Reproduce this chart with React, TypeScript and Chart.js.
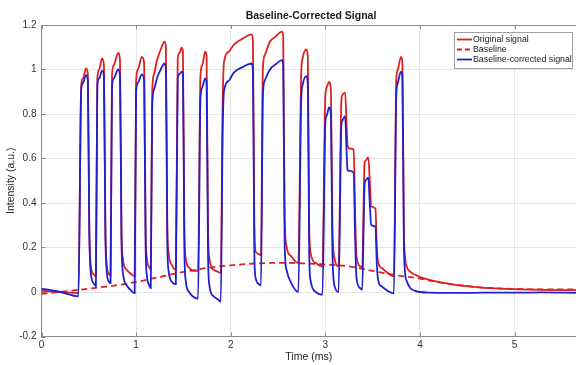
import React, { useEffect, useRef } from "react";
import { Chart, registerables } from "chart.js";

Chart.register(...registerables);

const chartTitle = "Baseline-Corrected Signal";
const xAxisTitle = "Time (ms)";
const yAxisTitle = "Intensity (a.u.)";
const seriesNames = ["Original signal", "Baseline", "Baseline-corrected signal"];

const xTicks = [0, 1, 2, 3, 4, 5];
const yTicks = [-0.2, 0, 0.2, 0.4, 0.6, 0.8, 1, 1.2];

// sample times (ms) shared by the original and corrected signals
const time = [
  0, 0.2, 0.39, 0.42, 0.44, 0.47, 0.49, 0.505, 0.52, 0.55, 0.575,
  0.59, 0.61, 0.64, 0.66, 0.675, 0.69, 0.715, 0.73,
  0.745, 0.765, 0.81, 0.83, 0.845, 0.86, 0.9, 0.95, 0.985,
  1.0, 1.02, 1.06, 1.085, 1.1, 1.115, 1.14, 1.155,
  1.17, 1.19, 1.22, 1.26, 1.3, 1.315, 1.33, 1.345, 1.38, 1.42,
  1.44, 1.46, 1.48, 1.495, 1.51, 1.525, 1.56, 1.6, 1.655,
  1.68, 1.7, 1.73, 1.745, 1.76, 1.775, 1.82, 1.87, 1.895,
  1.915, 1.93, 1.98, 2.03, 2.13, 2.22, 2.235, 2.25, 2.265, 2.3, 2.32,
  2.34, 2.36, 2.415, 2.48, 2.54, 2.555, 2.57, 2.59, 2.64, 2.715,
  2.745, 2.76, 2.8, 2.815, 2.83, 2.845, 2.9, 2.97,
  3.0, 3.015, 3.04, 3.06, 3.075, 3.1, 3.14,
  3.17, 3.18, 3.21, 3.225, 3.235, 3.25, 3.3, 3.315, 3.33, 3.37, 3.39,
  3.415, 3.425, 3.455, 3.47, 3.485, 3.53, 3.545, 3.56, 3.6, 3.66, 3.725,
  3.75, 3.765, 3.8, 3.815, 3.83, 3.845, 3.86, 3.9, 3.95, 4.0, 4.1, 4.3,
  4.5, 4.65, 5.0, 5.3, 5.65,
];

const original = [
  0.005, 0.0, -0.005, 0.93, 0.96, 1.005, 0.98, 0.3, 0.12, 0.08, 0.07,
  0.96, 1.0, 1.05, 1.02, 0.3, 0.12, 0.08, 0.075,
  0.97, 1.02, 1.075, 1.04, 0.3, 0.15, 0.1, 0.08, 0.07,
  0.95, 1.0, 1.057, 1.03, 0.3, 0.15, 0.11, 0.1,
  0.9, 0.98, 1.04, 1.09, 1.125, 1.1, 0.3, 0.17, 0.12, 0.1,
  1.05, 1.075, 1.098, 1.08, 0.3, 0.15, 0.11, 0.095, 0.095,
  0.97, 1.02, 1.08, 1.06, 0.3, 0.15, 0.1, 0.09, 0.085,
  0.85, 1.035, 1.08, 1.11, 1.14, 1.158, 1.13, 0.3, 0.18, 0.17, 0.165,
  1.0, 1.065, 1.125, 1.15, 1.17, 1.15, 0.35, 0.205, 0.16, 0.13,
  0.98, 1.05, 1.09, 1.06, 0.3, 0.175, 0.13, 0.115,
  0.88, 0.92, 0.944, 0.9, 0.3, 0.145, 0.115,
  0.86, 0.884, 0.896, 0.75, 0.66, 0.645, 0.64, 0.35, 0.16, 0.115, 0.11,
  0.58, 0.59, 0.605, 0.5, 0.385, 0.375, 0.2, 0.13, 0.107, 0.085, 0.07,
  0.95, 0.997, 1.057, 1.03, 0.3, 0.15, 0.115, 0.09, 0.078, 0.067, 0.055, 0.038,
  0.026, 0.02, 0.013, 0.01, 0.008,
];

const corrected = [
  0.015, 0.0, -0.02, 0.91, 0.94, 0.975, 0.95, 0.28, 0.09, 0.04, 0.025,
  0.93, 0.96, 0.995, 0.97, 0.27, 0.09, 0.045, 0.04,
  0.92, 0.96, 1.0, 0.97, 0.25, 0.09, 0.03, 0.005, -0.005,
  0.9, 0.94, 0.978, 0.95, 0.22, 0.07, 0.03, 0.017,
  0.83, 0.91, 0.96, 1.0, 1.027, 1.0, 0.22, 0.09, 0.045, 0.035,
  0.96, 0.98, 0.99, 0.98, 0.2, 0.05, 0.0, -0.02, -0.03,
  0.87, 0.92, 0.96, 0.94, 0.18, 0.03, -0.02, -0.035, -0.044,
  0.72, 0.906, 0.95, 0.985, 1.012, 1.027, 1.0, 0.17, 0.06, 0.035, 0.03,
  0.88, 0.95, 1.0, 1.025, 1.042, 1.02, 0.22, 0.1, 0.04, 0.0,
  0.86, 0.93, 0.97, 0.94, 0.17, 0.05, 0.0, -0.013,
  0.76, 0.793, 0.83, 0.79, 0.18, 0.024, 0.0,
  0.75, 0.77, 0.79, 0.63, 0.55, 0.544, 0.537, 0.25, 0.06, 0.017, 0.01,
  0.48, 0.5, 0.514, 0.4, 0.3, 0.293, 0.12, 0.05, 0.024, 0.005, -0.006,
  0.88, 0.937, 0.99, 0.965, 0.24, 0.08, 0.05, 0.017, 0.005, 0.0, -0.003, -0.004,
  -0.004, -0.003, -0.003, -0.002, -0.004,
];

const baselineTime = [
  0, 0.25, 0.5, 0.75, 1.0, 1.25, 1.5, 1.75, 2.0, 2.25, 2.5, 2.75, 3.0, 3.25,
  3.5, 3.75, 3.9, 4.0, 4.25, 4.63, 5.0, 5.3, 5.65,
];
const baseline = [
  -0.008, 0.003, 0.015, 0.028, 0.045, 0.068, 0.09, 0.108, 0.12, 0.128, 0.131,
  0.129, 0.124, 0.115, 0.095, 0.075, 0.067, 0.06, 0.04, 0.021, 0.014, 0.012, 0.012,
];

const RED = "rgb(222,32,32)";
const BLUE = "rgb(32,32,208)";
const AXIS = "#8a8a8a";
const FONT = "'Liberation Sans', Arial, sans-serif";

const decorPlugin = {
  id: "decor",
  beforeDatasetsDraw(chart: any) {
    const { ctx, chartArea: ca, scales } = chart;
    ctx.save();
    ctx.strokeStyle = AXIS;
    ctx.lineWidth = 1;
    ctx.beginPath();
    ctx.moveTo(ca.left, ca.top + 0.5);
    ctx.lineTo(ca.right, ca.top + 0.5);
    for (const v of xTicks) {
      const px = Math.round(scales.x.getPixelForValue(v)) + 0.5;
      ctx.moveTo(px, ca.bottom);
      ctx.lineTo(px, ca.bottom - 4);
      ctx.moveTo(px, ca.top);
      ctx.lineTo(px, ca.top + 4);
    }
    for (const v of yTicks) {
      const py = Math.round(scales.y.getPixelForValue(v)) + 0.5;
      ctx.moveTo(ca.left, py);
      ctx.lineTo(ca.left + 4, py);
    }
    ctx.stroke();
    ctx.restore();
  },
  afterDraw(chart: any) {
    const { ctx } = chart;
    ctx.save();
    // title
    ctx.fillStyle = "#1a1a1a";
    ctx.font = `bold 10.5px ${FONT}`;
    ctx.textAlign = "center";
    ctx.textBaseline = "middle";
    ctx.fillText(chartTitle, 311, 16);
    // legend
    const bx = 454, by = 32, bw = 118, bh = 36;
    ctx.fillStyle = "#ffffff";
    ctx.fillRect(bx, by, bw, bh);
    ctx.strokeStyle = "#a0a0a0";
    ctx.lineWidth = 1;
    ctx.strokeRect(bx + 0.5, by + 0.5, bw, bh);
    const colors = [RED, RED, BLUE];
    const dashes = [[], [5, 3], []];
    ctx.font = `8.8px ${FONT}`;
    ctx.textAlign = "left";
    for (let i = 0; i < seriesNames.length; i++) {
      const y = by + 7.5 + i * 10;
      ctx.strokeStyle = colors[i];
      ctx.lineWidth = 1.8;
      ctx.setLineDash(dashes[i]);
      ctx.beginPath();
      ctx.moveTo(457, y);
      ctx.lineTo(472, y);
      ctx.stroke();
      ctx.setLineDash([]);
      ctx.fillStyle = "#1a1a1a";
      ctx.fillText(seriesNames[i], 473, y + 0.5);
    }
    ctx.restore();
  },
};

export default function App() {
  const canvasRef = useRef<HTMLCanvasElement | null>(null);

  useEffect(() => {
    if (!canvasRef.current) return;
    const origPts = time.map((t, i) => ({ x: t, y: original[i] }));
    const corrPts = time.map((t, i) => ({ x: t, y: corrected[i] }));
    const basePts = baselineTime.map((t, i) => ({ x: t, y: baseline[i] }));

    const chart = new Chart(canvasRef.current, {
      type: "line",
      data: {
        datasets: [
          {
            label: seriesNames[0],
            data: origPts,
            borderColor: RED,
            borderWidth: 1.8,
            pointRadius: 0,
            cubicInterpolationMode: "monotone",
            order: 2,
          },
          {
            label: seriesNames[1],
            data: basePts,
            borderColor: RED,
            borderWidth: 1.8,
            borderDash: [6, 4],
            pointRadius: 0,
            cubicInterpolationMode: "monotone",
            order: 1,
          },
          {
            label: seriesNames[2],
            data: corrPts,
            borderColor: BLUE,
            borderWidth: 1.8,
            pointRadius: 0,
            cubicInterpolationMode: "monotone",
            order: 0,
          },
        ],
      },
      options: {
        responsive: false,
        animation: false,
        parsing: true,
        layout: { padding: { top: 25, right: 0, left: 0, bottom: 0 } },
        plugins: {
          legend: { display: false },
          title: { display: false },
          tooltip: { enabled: false },
        },
        scales: {
          x: {
            type: "linear",
            min: 0,
            max: 5.65,
            afterFit: (s: any) => {
              s.height = 28.5;
            },
            ticks: {
              stepSize: 1,
              includeBounds: false,
              color: "#333",
              font: { size: 10, family: FONT },
              padding: 3,
              maxRotation: 0,
              callback: (v: any) => String(v),
            },
            grid: { color: "#e6e6e6", drawTicks: false },
            border: { color: AXIS },
            title: {
              display: true,
              text: xAxisTitle,
              color: "#222",
              font: { size: 10.5, family: FONT },
              padding: { top: 0, bottom: 2 },
            },
          },
          y: {
            type: "linear",
            min: -0.2,
            max: 1.2,
            afterFit: (s: any) => {
              s.width = 41.5;
            },
            ticks: {
              stepSize: 0.2,
              color: "#333",
              font: { size: 10, family: FONT },
              padding: 5,
              callback: (v: any) => String(Math.round(Number(v) * 10) / 10),
            },
            grid: { color: "#e6e6e6", drawTicks: false },
            border: { color: AXIS },
            title: {
              display: true,
              text: yAxisTitle,
              color: "#222",
              font: { size: 10.5, family: FONT },
              padding: { top: 5, bottom: 0 },
            },
          },
        },
      },
      plugins: [decorPlugin],
    });
    return () => chart.destroy();
  }, []);

  return (
    <div style={{ position: "absolute", left: 0, top: 0, width: 576, height: 365, background: "#fff" }}>
      <canvas ref={canvasRef} width={576} height={365} style={{ display: "block" }} />
    </div>
  );
}
